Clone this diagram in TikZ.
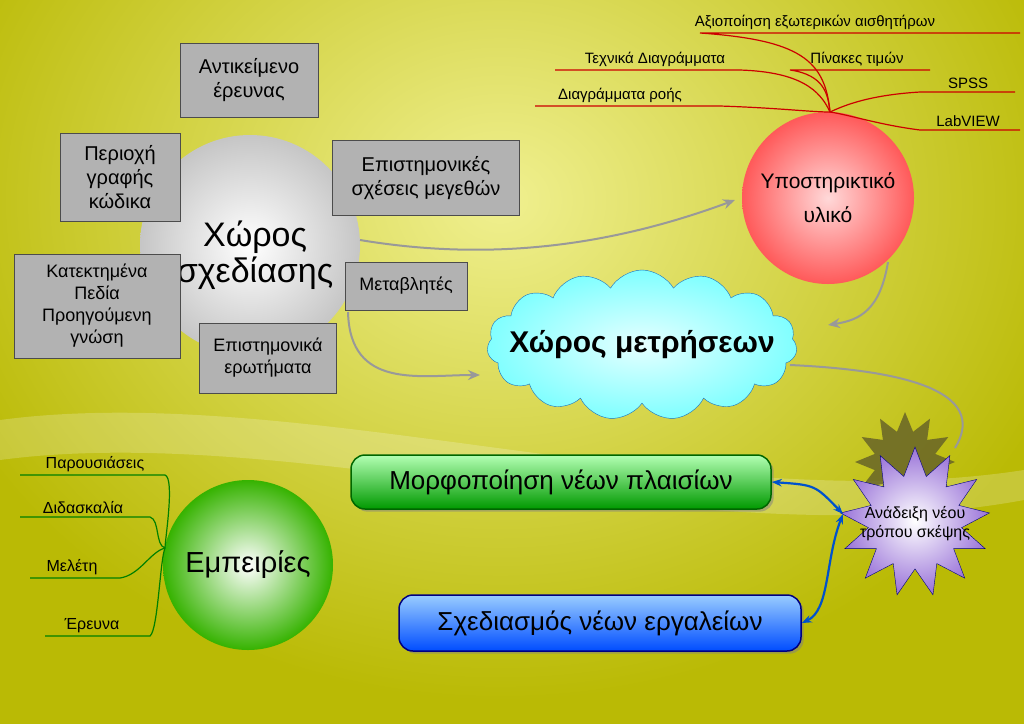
\documentclass[tikz,border=0pt]{standalone}
\usepackage{fontspec}
\setmainfont{Liberation Sans}
\usetikzlibrary{shapes.symbols,shapes.geometric,arrows.meta,shadows}
\definecolor{bgA}{HTML}{F0F090}
\definecolor{bgB}{HTML}{BABA05}
\tikzset{
 gbox/.style={draw=gray!60!black,fill=gray!60,align=center,font=\fontsize{20}{24}\selectfont,inner sep=5pt},
 garrow/.style={draw=gray!80,line width=2pt,-{Stealth[length=12pt,width=10pt]}},
 barrow/.style={draw=blue!60!cyan!80!black,line width=2.2pt,{Stealth[length=10pt]}-{Stealth[length=10pt]}},
 rline/.style={draw=red!80!black,line width=1.2pt},
 gline/.style={draw=green!50!black,line width=1.2pt},
 rlab/.style={font=\fontsize{15}{17}\selectfont,anchor=south},
 glab/.style={font=\fontsize{16}{18}\selectfont,anchor=south},
}
\begin{document}
\begin{tikzpicture}[x=1pt,y=-1pt]
\useasboundingbox (0,0) rectangle (1024,724);
\fill[bgB] (0,0) rectangle (1024,724);
\shade[inner color=bgA,outer color=bgB] (-100,-300) rectangle (1100,700);
\fill[white,opacity=0.2] (0,420) .. controls (300,380) and (700,520) .. (1024,470) -- (1024,500) .. controls (700,560) and (300,420) .. (0,460) -- cycle;
% gray sphere
\shade[inner color=white,outer color=gray!45] (250,245) circle (110);
\node[font=\fontsize{34}{36}\selectfont,align=center] (design) at (255,255) {Χώρος\\σχεδίασης};
\node[gbox,minimum width=138,minimum height=74] (obj) at (249,80) {Αντικείμενο\\έρευνας};
\node[gbox,minimum width=120,minimum height=88] (code) at (120,177) {Περιοχή\\γραφής\\κώδικα};
\node[gbox,minimum width=187,minimum height=75] (rel) at (426,178) {Επιστημονικές\\σχέσεις μεγεθών};
\node[gbox,minimum width=166,minimum height=104,font=\fontsize{18}{22}\selectfont] (prev) at (97,306) {Κατεκτημένα\\Πεδία\\Προηγούμενη\\γνώση};
\node[gbox,minimum width=122,minimum height=48,font=\fontsize{18}{22}\selectfont] (var) at (406,286) {Μεταβλητές};
\node[gbox,minimum width=137,minimum height=70,font=\fontsize{18}{22}\selectfont] (q) at (268,358) {Επιστημονικά\\ερωτήματα};
% red sphere
\shade[inner color=red!15,outer color=red!65] (828,198) circle (86);
\node[font=\fontsize{21}{34}\selectfont,align=center] (sup) at (828,198) {Υποστηρικτικό\\υλικό};
% cloud
\node[cloud,cloud puffs=15,cloud puff arc=120,aspect=2,minimum width=310,minimum height=150,inner sep=0pt,draw=cyan!50!blue,inner color=cyan!10,outer color=cyan!50] (cloud) at (642,345) {};
\node[font=\bfseries\fontsize{30}{32}\selectfont] (cloudl) at (cloud.center) {Χώρος μετρήσεων};
% stars
\node[star,star points=12,star point ratio=1.6,minimum size=100,inner sep=0pt,fill=olive!60!black,opacity=0.8] (starb) at (905,462) {};
\node[star,star points=13,star point ratio=1.6,minimum size=150,inner sep=0pt,draw=blue!50!black,inner color=white,outer color=blue!45!violet!55] (star) at (915,522) {};
\node[align=center,font=\fontsize{16}{19}\selectfont] (starl) at (915,524) {Ανάδειξη νέου\\τρόπου σκέψης};
% green/blue boxes
\node[rounded corners=14,draw=green!40!black,line width=1.5pt,top color=green!30,bottom color=green!60!black,minimum width=420,minimum height=54,font=\fontsize{26}{28}\selectfont,drop shadow] (form) at (561,482) {Μορφοποίηση νέων πλαισίων};
\node[rounded corners=14,draw=blue!50!black,line width=1.5pt,top color=cyan!50!blue!40,bottom color=blue!70!cyan,minimum width=402,minimum height=56,font=\fontsize{26}{28}\selectfont,drop shadow] (tools) at (600,623) {Σχεδιασμός νέων εργαλείων};
% green sphere
\shade[inner color=white,outer color=green!60!lime!70!black] (248,565) circle (85);
\node[font=\fontsize{29}{32}\selectfont] (exp) at (248,565) {Εμπειρίες};
% arrows
\draw[garrow] (360,240) .. controls (480,260) and (600,250) .. (735,200);
\draw[garrow] (348,312) .. controls (350,390) and (420,375) .. (480,375);
\draw[garrow] (888,262) .. controls (880,310) and (860,320) .. (828,325);
\draw[gray!80,line width=2pt] (790,365) .. controls (900,370) and (990,390) .. (955,448);
\coordinate (sj) at (843,514);
\draw[barrow] (form.east) .. controls (815,485) .. (sj);
\draw[barrow] (sj) .. controls (825,560) and (830,610) .. (tools.east);
% red tree
\coordinate (rj) at (830,112);
\node[rlab] (t1) at (815,33) {Αξιοποίηση εξωτερικών αισθητήρων};
\node[rlab] (t2) at (655,70) {Τεχνικά Διαγράμματα};
\node[rlab] (t3) at (857,70) {Πίνακες τιμών};
\node[rlab] (t4) at (968,92) {SPSS};
\node[rlab] (t5) at (620,106) {Διαγράμματα ροής};
\node[rlab] (t6) at (968,130) {LabVIEW};
\draw[rline] (1020,33) -- (700,33) .. controls (800,40) and (825,60) .. (rj);
\draw[rline] (555,70) -- (740,70) .. controls (800,72) and (820,90) .. (rj);
\draw[rline] (930,70) -- (790,70) .. controls (825,75) and (828,95) .. (rj);
\draw[rline] (1015,92) -- (920,92) .. controls (870,95) and (845,105) .. (rj);
\draw[rline] (535,106) -- (720,106) .. controls (780,108) and (810,112) .. (rj);
\draw[rline] (1020,130) -- (920,130) .. controls (880,125) and (850,115) .. (rj);
% green tree
\coordinate (gj) at (165,548);
\node[glab] (p1) at (95,475) {Παρουσιάσεις};
\node[glab] (p2) at (83,517) {Διδασκαλία};
\node[glab] (p3) at (72,578) {Μελέτη};
\node[glab] (p4) at (92,636) {Έρευνα};
\draw[gline] (20,475) -- (165,475) .. controls (175,478) and (165,540) .. (gj);
\draw[gline] (20,517) -- (150,517) .. controls (160,520) and (155,545) .. (gj);
\draw[gline] (30,578) -- (120,578) .. controls (140,575) and (150,552) .. (gj);
\draw[gline] (45,636) -- (150,636) .. controls (158,630) and (160,560) .. (gj);
\end{tikzpicture}
\end{document}
